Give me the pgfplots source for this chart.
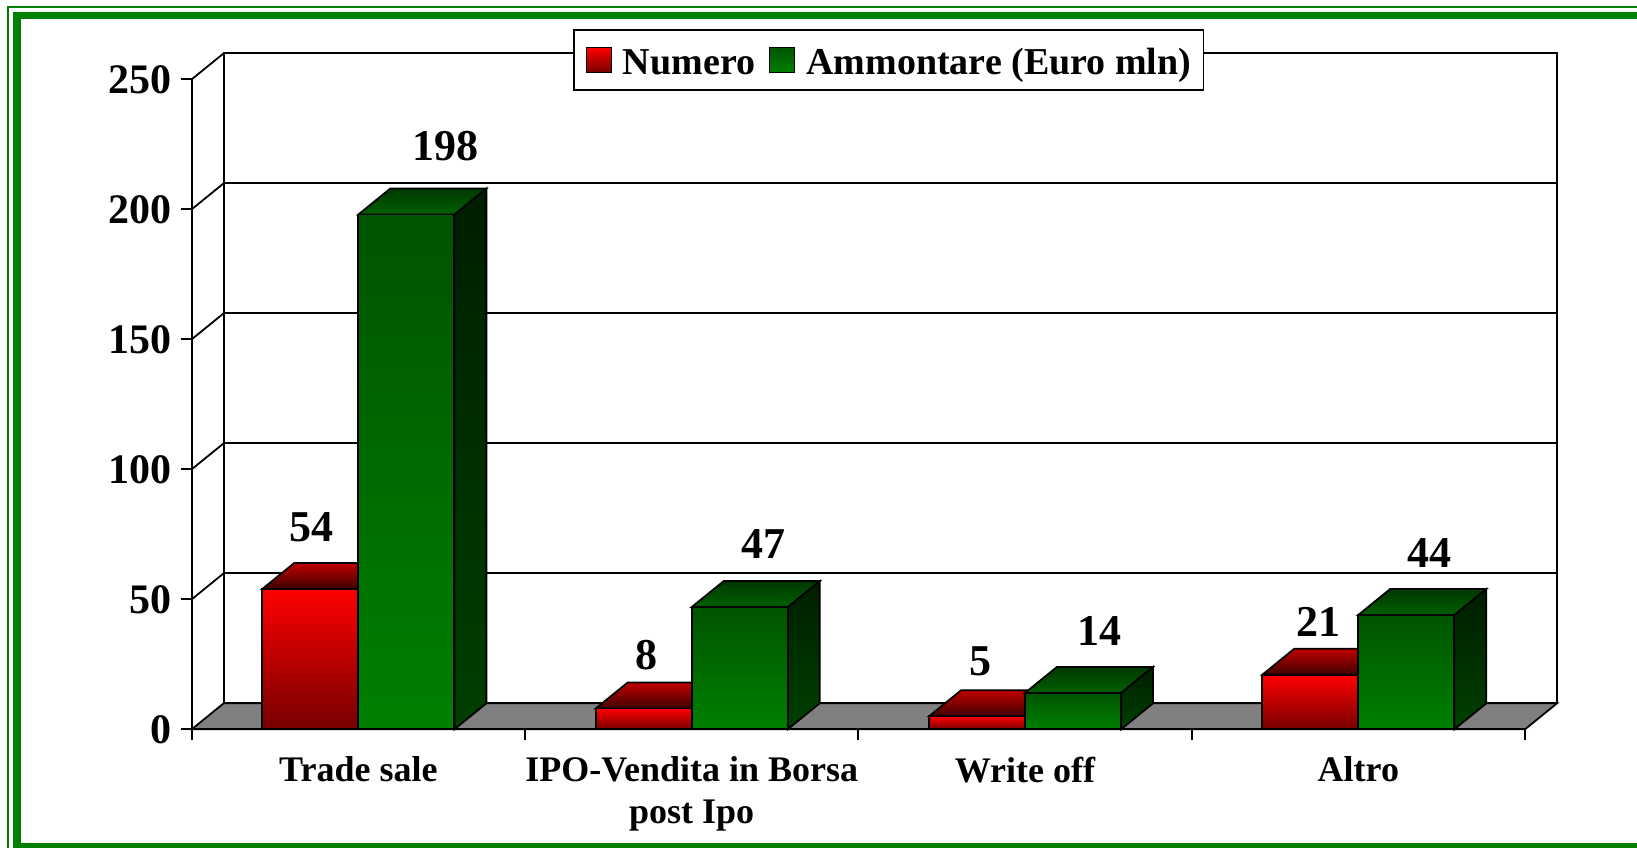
\documentclass[border=0pt]{standalone}
\usepackage{pgfplots}
\pgfplotsset{compat=1.18}
\usepackage{pgfplotstable}
\usepackage{fontspec}
\setmainfont{Liberation Serif}

% colours
\definecolor{frameg}{RGB}{0,128,0}
\definecolor{floorg}{RGB}{128,128,128}
\definecolor{redA}{RGB}{255,0,0}
\definecolor{redB}{RGB}{118,0,0}
\definecolor{redtopA}{RGB}{192,0,0}
\definecolor{redtopB}{RGB}{64,0,0}
\definecolor{grnA}{RGB}{0,84,0}
\definecolor{grnB}{RGB}{0,128,0}
\definecolor{grntopA}{RGB}{0,56,0}
\definecolor{grntopB}{RGB}{0,96,0}
\definecolor{grnsideA}{RGB}{0,30,0}
\definecolor{grnsideB}{RGB}{0,64,0}

\newcommand\tickfont{\fontsize{21}{21}\selectfont\bfseries}
\newcommand\datafont{\fontsize{22}{22}\selectfont\bfseries}
\newcommand\catfont{\fontsize{18}{20.8}\selectfont\bfseries}
\newcommand\legfont{\fontsize{19}{19}\selectfont\bfseries}

\pgfdeclareplotmark{nothing}{}

% x = category, num = Numero, amt = Ammontare; rx/rg, gx/gg = label offsets (px)
\pgfplotstableread{
x num amt rx rg gx gg
0 54  198 1  21 39 28
1 8   47  3  13 24 23
2 5   14  3  15 26 21
3 21  44  8  12 23 21
}\exits

\begin{document}
\begin{tikzpicture}
% green double frame (right and bottom run off the page)
\draw[frameg, line width=0.85pt] (4pt,-3.4pt) rectangle (840pt,-440pt);
\draw[frameg, line width=3.8pt] (8.5pt,-7.75pt) rectangle (826pt,-423.25pt);

% back wall with gridlines
\begin{axis}[
  at={(111.85pt,-351.65pt)}, anchor=south west,
  scale only axis, width=666.65pt, height=325pt,
  xmin=-0.5, xmax=3.5, ymin=0, ymax=250,
  xtick=\empty, ytick={50,100,150,200}, yticklabels={},
  major tick length=0pt,
  ymajorgrids, grid style={black, line width=0.9pt},
  axis line style={line width=0.9pt},
]
\end{axis}

% front: floor, bars, labels
\begin{axis}[
  at={(95.85pt,-364.65pt)}, anchor=south west,
  scale only axis, width=666.65pt, height=325pt,
  xmin=-0.5, xmax=3.5, ymin=0, ymax=250,
  clip=false, axis on top,
  axis x line*=bottom, axis y line*=left,
  axis line style={line width=0.9pt, -},
  xtick={-0.5,0.5,1.5,2.5,3.5},
  x tick label as interval,
  xticklabels={Trade sale,{IPO-Vendita in Borsa\\post Ipo},Write off,Altro},
  xticklabel style={font=\catfont, align=center, inner sep=0pt, anchor=north, yshift=-8pt},
  ytick={0,50,...,250},
  yticklabel style={font=\tickfont, inner sep=0pt, anchor=east, xshift=-4.5pt},
  tick align=outside, major tick length=5.5pt,
  tick style={line width=0.9pt, black},
  /pgf/number format/assume math mode=true,
  legend columns=2,
  legend style={at={(0.286,1.0769)}, anchor=north west, draw=black,
    line width=0.75pt, fill=white, font=\legfont,
    inner xsep=6pt, inner ysep=3pt,
    nodes={inner sep=0pt, text height=19.1pt, text depth=4.9pt},
    column sep=5.5pt,
    /tikz/every even column/.append style={column sep=7pt}},
]
% floor
\path[fill=floorg, draw=black, line width=0.9pt]
  (axis cs:-0.5,0) -- (axis cs:3.5,0) -- ++(16pt,13pt)
  -- ([shift={(16pt,13pt)}]axis cs:-0.5,0) -- cycle;
\pgfplotsinvokeforeach{50,100,150,200,250}{
  \draw[line width=0.9pt] (axis cs:-0.5,#1) -- ++(16pt,13pt);
}

% Numero: 3D bars (top face + front face), one shading per bar
\addplot[forget plot, scatter, only marks, mark=nothing, point meta=y,
  visualization depends on={\thisrow{num}\as\hval},
  scatter/@pre marker code/.code={%
    \path[draw=black, line width=0.9pt, top color=redtopA, bottom color=redtopB]
      (-48pt,0pt) -- (0pt,0pt) -- (16pt,13pt) -- (-32pt,13pt) -- cycle;
    \path[draw=black, line width=0.9pt, top color=redA, bottom color=redB]
      (-48pt,{-\hval*1.3pt}) rectangle (0pt,0pt);},
  scatter/@post marker code/.code={},
] table[x=x, y=num] {\exits};

% Ammontare: 3D bars (side, top, front)
\addplot[forget plot, scatter, only marks, mark=nothing, point meta=y,
  visualization depends on={\thisrow{amt}\as\hval},
  scatter/@pre marker code/.code={%
    \path[draw=black, line width=0.9pt, top color=grnsideA, bottom color=grnsideB]
      (48pt,0pt) -- (64pt,13pt) -- (64pt,{13pt-\hval*1.3pt}) -- (48pt,{-\hval*1.3pt}) -- cycle;
    \path[draw=black, line width=0.9pt, top color=grntopA, bottom color=grntopB]
      (0pt,0pt) -- (48pt,0pt) -- (64pt,13pt) -- (16pt,13pt) -- cycle;
    \path[draw=black, line width=0.9pt, top color=grnA, bottom color=grnB]
      (0pt,{-\hval*1.3pt}) rectangle (48pt,0pt);},
  scatter/@post marker code/.code={},
] table[x=x, y=amt] {\exits};

% value labels
\addplot[forget plot, only marks, mark=nothing, point meta=y, nodes near coords,
  visualization depends on={\thisrow{rx}\as\lx},
  visualization depends on={\thisrow{rg}\as\lg},
  nodes near coords style={anchor=base, inner sep=0pt, font=\datafont, text=black,
    xshift={(-48+\lx)*0.5pt}, yshift={(26+\lg)*0.5pt}},
] table[x=x, y=num] {\exits};
\addplot[forget plot, only marks, mark=nothing, point meta=y, nodes near coords,
  visualization depends on={\thisrow{gx}\as\lx},
  visualization depends on={\thisrow{gg}\as\lg},
  nodes near coords style={anchor=base, inner sep=0pt, font=\datafont, text=black,
    xshift={(48+\lx)*0.5pt}, yshift={(26+\lg)*0.5pt}},
] table[x=x, y=amt] {\exits};

\addlegendimage{legend image code/.code={\draw[black, line width=0.6pt, top color=redA, bottom color=redB] (0pt,-6.25pt) rectangle (12.5pt,6.25pt);}}
\addlegendimage{legend image code/.code={\draw[black, line width=0.6pt, top color=grnA, bottom color=grnB] (0pt,-6.25pt) rectangle (12.5pt,6.25pt);}}
\legend{Numero, Ammontare (Euro mln)}
\end{axis}

\pgfresetboundingbox
\path[use as bounding box] (0pt,0pt) rectangle (818.5pt,-423.5pt);
\end{tikzpicture}
\end{document}
